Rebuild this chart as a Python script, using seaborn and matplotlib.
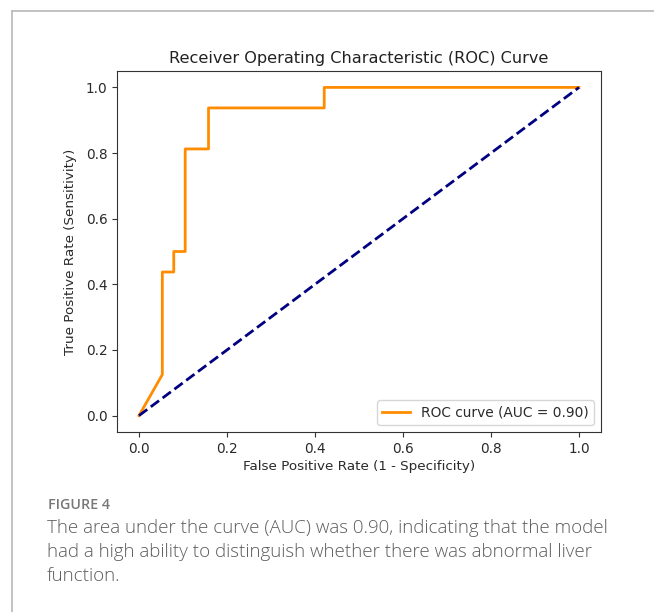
import matplotlib
matplotlib.use("Agg")
import matplotlib.pyplot as plt
import matplotlib.lines as mlines
import seaborn as sns
import pandas as pd

# ROC data
fpr = [0.0, 0.053, 0.053, 0.079, 0.079, 0.105, 0.105, 0.158, 0.158, 0.421, 0.421, 1.0]
tpr = [0.0, 0.125, 0.4375, 0.4375, 0.5, 0.5, 0.8125, 0.8125, 0.9375, 0.9375, 1.0, 1.0]
chance_x = [0.0, 1.0]
chance_y = [0.0, 1.0]
auc_value = 0.90

title = "Receiver Operating Characteristic (ROC) Curve"
xlabel = "False Positive Rate (1 - Specificity)"
ylabel = "True Positive Rate (Sensitivity)"
xticks = [0.0, 0.2, 0.4, 0.6, 0.8, 1.0]
yticks = [0.0, 0.2, 0.4, 0.6, 0.8, 1.0]
fig_label = "FIGURE 4"
caption_lines = [
    "The area under the curve (AUC) was 0.90, indicating that the model",
    "had a high ability to distinguish whether there was abnormal liver",
    "function.",
]

W, H = 654, 612
fig = plt.figure(figsize=(W / 100, H / 100), dpi=100)
fig.patch.set_facecolor("white")

# page border (left and top)
fig.add_artist(mlines.Line2D([12 / W, 12 / W], [0, 1 - 11 / H], color="#bdbdbd", lw=1.3,
                             transform=fig.transFigure))
fig.add_artist(mlines.Line2D([12 / W, 1], [1 - 11 / H, 1 - 11 / H], color="#bdbdbd", lw=1.3,
                             transform=fig.transFigure))

ax = fig.add_axes([117 / W, 1 - 432 / H, (601 - 117) / W, (432 - 71) / H])

roc_df = pd.DataFrame({"fpr": fpr, "tpr": tpr})
chance_df = pd.DataFrame({"x": chance_x, "y": chance_y})

sns.lineplot(data=roc_df, x="fpr", y="tpr", sort=False, estimator=None, ax=ax,
             color="darkorange", lw=2, label=f"ROC curve (AUC = {auc_value:.2f})")
sns.lineplot(data=chance_df, x="x", y="y", sort=False, estimator=None, ax=ax,
             color="navy", lw=2, linestyle="--", legend=False)

ax.set_xlim(-0.05, 1.05)
ax.set_ylim(-0.05, 1.05)
ax.set_xticks(xticks)
ax.set_yticks(yticks)
ax.tick_params(labelsize=9.8, color="#333333", labelcolor="#2a2a2a")
for s in ax.spines.values():
    s.set_color("#333333")
ax.set_title(title, fontsize=11.6, color="#222222", pad=6)
ax.set_xlabel(xlabel, fontsize=9.7, color="#2a2a2a", labelpad=3)
ax.set_ylabel(ylabel, fontsize=9.7, color="#2a2a2a", labelpad=6)
leg = ax.legend(loc="lower right", fontsize=9.9, handlelength=2)
for t in leg.get_texts():
    t.set_color("#2a2a2a")

# caption
fig.text(48 / W, 1 - 505 / H, fig_label, fontsize=10.3, color="#777777",
         family="Open Sans", weight="semibold", va="center", ha="left")
for i, line in enumerate(caption_lines):
    fig.text(47 / W, 1 - (528 + 24 * i) / H, line, fontsize=13.5, color="#5c5c5c",
             family="Open Sans", weight="light", va="center", ha="left")

fig.savefig("out.png", dpi=100, facecolor="white")
